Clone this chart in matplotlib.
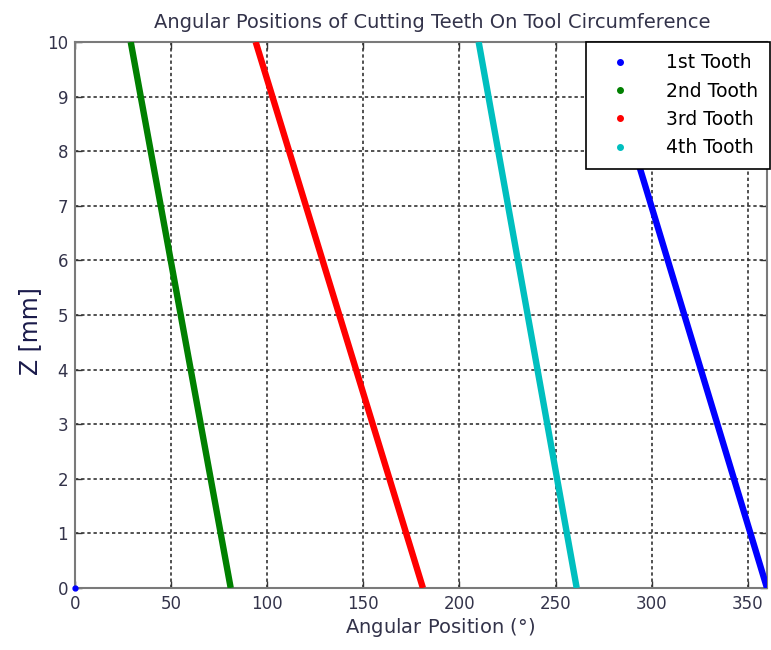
import matplotlib
matplotlib.use("Agg")
import matplotlib.pyplot as plt
import numpy as np

plt.rcParams['font.family'] = ['DejaVu Sans']

# Data (z in mm, angular positions in degrees at the start/end of the tool length)
z_ends = [0, 10]
tooth_labels = ["1st Tooth", "2nd Tooth", "3rd Tooth", "4th Tooth"]
tooth1_angles = [360, 274]
tooth2_angles = [81, 29]
tooth3_angles = [181, 94]
tooth4_angles = [261, 210]
tooth1_wrapped_start = [0]   # first point of tooth 1 at z=0 plotted as 0°
tooth1_wrapped_z = [0]
tooth_colors = ["#0000ff", "#008000", "#ff0000", "#00bfbf"]

x_ticks = [0, 50, 100, 150, 200, 250, 300, 350]
y_ticks = [0, 1, 2, 3, 4, 5, 6, 7, 8, 9, 10]

fig = plt.figure(figsize=(7.71, 6.5), dpi=100)
ax = fig.add_axes([75/771, 62/650, (767-75)/771, (588-42)/650])

all_angles = [tooth1_angles, tooth2_angles, tooth3_angles, tooth4_angles]
for ang, col, lab in zip(all_angles, tooth_colors, tooth_labels):
    ax.plot(ang, z_ends, '-', color=col, lw=4.6, solid_capstyle='butt', zorder=3)
    ax.plot([], [], '.', color=col, markersize=8, label=lab)
ax.plot(tooth1_wrapped_start, tooth1_wrapped_z, '.', color=tooth_colors[0],
        markersize=7, zorder=4, clip_on=False)

ax.set_xlim(0, 360)
ax.set_ylim(0, 10)
ax.set_xticks(x_ticks)
ax.set_yticks(y_ticks)
ax.tick_params(direction='in', top=True, right=True, labelsize=12,
               length=5, width=1, colors='#333333', labelcolor='#33334a', pad=5)
ax.grid(True, linestyle=(0, (2, 1.7)), color='#333333', linewidth=1.2)
for s in ax.spines.values():
    s.set_color('#7a7a7a')
    s.set_linewidth(1.5)

ax.set_title("Angular Positions of Cutting Teeth On Tool Circumference",
             fontsize=14, color='#33334a', x=0.516, y=1.0, pad=10)
ax.set_xlabel("Angular Position ($\\degree$)", fontsize=14, color='#33334a')
ax.xaxis.set_label_coords(0.527, -0.052)
ax.xaxis.label.set_va('top')
ax.set_ylabel("Z [mm]", fontsize=17, color='#1a1a4a')
ax.yaxis.set_label_coords(-0.048, 0.47)

leg = ax.legend(loc='upper right', fontsize=13.5, frameon=True, fancybox=False,
                framealpha=1, edgecolor='black', borderaxespad=0,
                handletextpad=1.3, labelspacing=0.5, borderpad=0.6,
                handlelength=2.4, bbox_to_anchor=(1.004, 1.0))
leg.get_frame().set_linewidth(1.2)

fig.savefig("out.png", dpi=100)
